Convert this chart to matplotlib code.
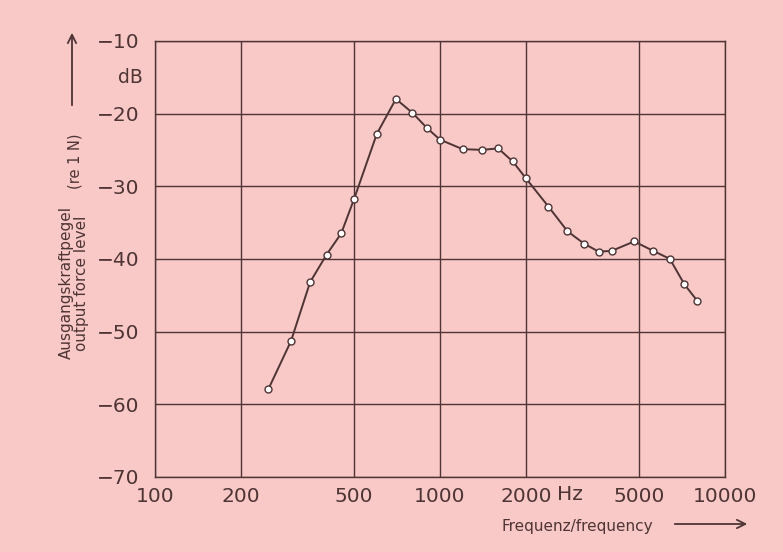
import numpy as np
import matplotlib.pyplot as plt
from matplotlib.patches import FancyArrowPatch

# frequency response
freq_hz = [250, 300, 350, 400, 450, 500, 600, 700, 800, 900,
           1000, 1200, 1400, 1600, 1800, 2000, 2400, 2800, 3200, 3600,
           4000, 4800, 5600, 6400, 7200, 8000]
level_db = [-57.9, -51.3, -43.2, -39.4, -36.5, -31.7, -22.8, -18.0, -19.9, -22.0,
            -23.6, -24.9, -25.0, -24.8, -26.6, -28.9, -32.8, -36.2, -37.9, -39.0,
            -38.9, -37.6, -38.9, -40.0, -43.5, -45.8]

x_ticks = [100, 200, 500, 1000, 2000, 5000, 10000]
x_ticklabels = ["100", "200", "500", "1000", "2000", "5000", "10000"]
y_ticks = [-70, -60, -50, -40, -30, -20, -10]
y_ticklabels = ["−70", "−60", "−50", "−40", "−30", "−20", "−10"]

bg = "#f8c9c7"
ink = "#4e3434"

fig = plt.figure(figsize=(7.83, 5.52), dpi=100)
fig.patch.set_facecolor(bg)
ax = fig.add_axes([0.198, 0.136, 0.728, 0.790])
ax.set_facecolor(bg)

ax.set_xscale("log")
ax.set_xlim(100, 10000)
ax.set_ylim(-70, -10)

ax.set_xticks(x_ticks)
ax.set_xticklabels(x_ticklabels)
ax.xaxis.set_minor_locator(plt.NullLocator())
ax.set_yticks(y_ticks)
ax.set_yticklabels(y_ticklabels)
ax.tick_params(length=0, labelsize=14.5, colors=ink)
ax.tick_params(axis="x", pad=7)
ax.tick_params(axis="y", pad=11)
ax.grid(True, color=ink, linewidth=1.0)
for s in ax.spines.values():
    s.set_color(ink)
    s.set_linewidth(1.0)

ax.plot(freq_hz, level_db, color=ink, linewidth=1.4, marker="o",
        markersize=5, markerfacecolor="white", markeredgecolor=ink,
        markeredgewidth=1.0, zorder=3)

# unit labels and axis captions
fig.text(130 / 783, 1 - 77 / 552, "dB", fontsize=13.5, color=ink,
         ha="center", va="center")
fig.text(570 / 783, 1 - 494 / 552, "Hz", fontsize=14.5, color=ink,
         ha="center", va="center")

fig.text(75 / 783, 1 - 161 / 552, "(re 1 N)", fontsize=10.5, color=ink,
         rotation=90, ha="center", va="center")
fig.text(74 / 783, 1 - 283 / 552, "Ausgangskraftpegel\noutput force level",
         fontsize=11, color=ink, rotation=90, ha="center", va="center",
         linespacing=1.05)
fig.text(577 / 783, 1 - 526 / 552, "Frequenz/frequency", fontsize=11,
         color=ink, ha="center", va="center")

fig.add_artist(FancyArrowPatch(
    (72 / 783, 1 - 108 / 552), (72 / 783, 1 - 30 / 552),
    transform=fig.transFigure, arrowstyle="->,head_length=6,head_width=3",
    color=ink, linewidth=1.3))
fig.add_artist(FancyArrowPatch(
    (672 / 783, 1 - 524 / 552), (750 / 783, 1 - 524 / 552),
    transform=fig.transFigure, arrowstyle="->,head_length=6,head_width=3",
    color=ink, linewidth=1.3))

fig.savefig("out.png", dpi=100, facecolor=bg)
